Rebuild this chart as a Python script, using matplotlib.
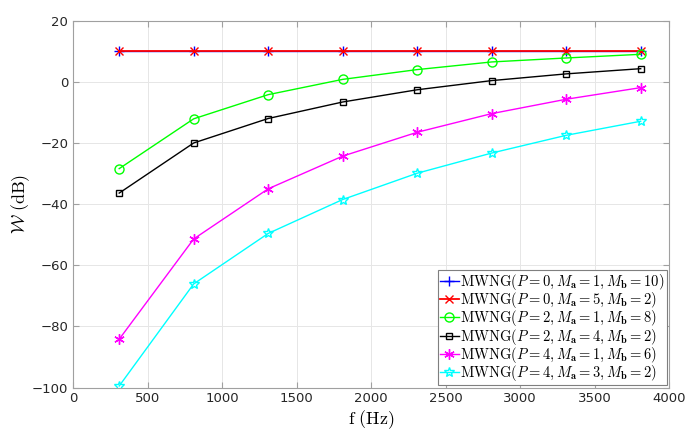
import matplotlib
matplotlib.use("Agg")
import matplotlib.pyplot as plt
from matplotlib.markers import MarkerStyle

freq = [310, 810, 1310, 1810, 2310, 2810, 3310, 3810]
w_p0_a1_b10 = [10, 10, 10, 10, 10, 10, 10, 10]
w_p0_a5_b2 = [10, 10, 10, 10, 10, 10, 10, 10]
w_p2_a1_b8 = [-28.4, -12.1, -4.2, 0.8, 4.0, 6.5, 7.8, 9.0]
w_p2_a4_b2 = [-36.4, -20.0, -12.0, -6.6, -2.6, 0.4, 2.6, 4.3]
w_p4_a1_b6 = [-84.2, -51.4, -35.0, -24.3, -16.5, -10.4, -5.7, -1.9]
w_p4_a3_b2 = [-99.5, -66.1, -49.6, -38.5, -29.9, -23.3, -17.5, -12.9]

labels = [
    r'$\mathrm{MWNG}(P=0, M_{\mathbf{a}}=1, M_{\mathbf{b}}=10)$',
    r'$\mathrm{MWNG}(P=0, M_{\mathbf{a}}=5, M_{\mathbf{b}}=2)$',
    r'$\mathrm{MWNG}(P=2, M_{\mathbf{a}}=1, M_{\mathbf{b}}=8)$',
    r'$\mathrm{MWNG}(P=2, M_{\mathbf{a}}=4, M_{\mathbf{b}}=2)$',
    r'$\mathrm{MWNG}(P=4, M_{\mathbf{a}}=1, M_{\mathbf{b}}=6)$',
    r'$\mathrm{MWNG}(P=4, M_{\mathbf{a}}=3, M_{\mathbf{b}}=2)$',
]

plt.rcParams['mathtext.fontset'] = 'cm'

fig = plt.figure(figsize=(6.92, 4.40), dpi=100)
ax = fig.add_axes([0.1055, 0.1193, 0.8613, 0.8337])

asterisk = MarkerStyle((6, 2, 0))
series = [
    (w_p0_a1_b10, '#0000ff', '+', 7, 'full', 1.0),
    (w_p0_a5_b2, '#ff0000', 'x', 5.5, 'full', 1.3),
    (w_p2_a1_b8, '#00ff00', 'o', 6.5, 'none', 1.0),
    (w_p2_a4_b2, '#000000', 's', 5, 'none', 1.0),
    (w_p4_a1_b6, '#ff00ff', asterisk, 7.5, 'full', 1.0),
    (w_p4_a3_b2, '#00ffff', '*', 7.5, 'none', 1.0),
]
for (vals, col, mk, ms, fs, lw), lab in zip(series, labels):
    ax.plot(freq, vals, color=col, marker=mk, markersize=ms, fillstyle=fs,
            markeredgewidth=1.0, linewidth=lw, label=lab)

ax.set_xlim(0, 4000)
ax.set_ylim(-100, 20)
ax.set_xticks(range(0, 4001, 500))
ax.set_yticks(range(-100, 21, 20))
ax.grid(True, color='#e6e6e6', linewidth=0.7)
ax.set_axisbelow(True)
for s in ax.spines.values():
    s.set_color('#a0a0a0')
ax.tick_params(direction='in', colors='#262626', labelsize=9.5, length=4,
               top=True, right=True, color='#a0a0a0')
for lbl in ax.get_xticklabels() + ax.get_yticklabels():
    lbl.set_color('#262626')

ax.set_xlabel(r'$\mathrm{f\ (Hz)}$', fontsize=13, labelpad=2)
ax.set_ylabel(r'$\mathcal{W}\ \mathrm{(dB)}$', fontsize=13, labelpad=0)

leg = ax.legend(loc='lower right', fontsize=10.5, handlelength=1.3,
                handletextpad=0.1, borderpad=0.15, labelspacing=-0.12,
                borderaxespad=0.15, fancybox=False, framealpha=1)
leg.get_frame().set_edgecolor('#7f7f7f')
leg.get_frame().set_linewidth(0.8)

fig.savefig('out.png', dpi=100)
